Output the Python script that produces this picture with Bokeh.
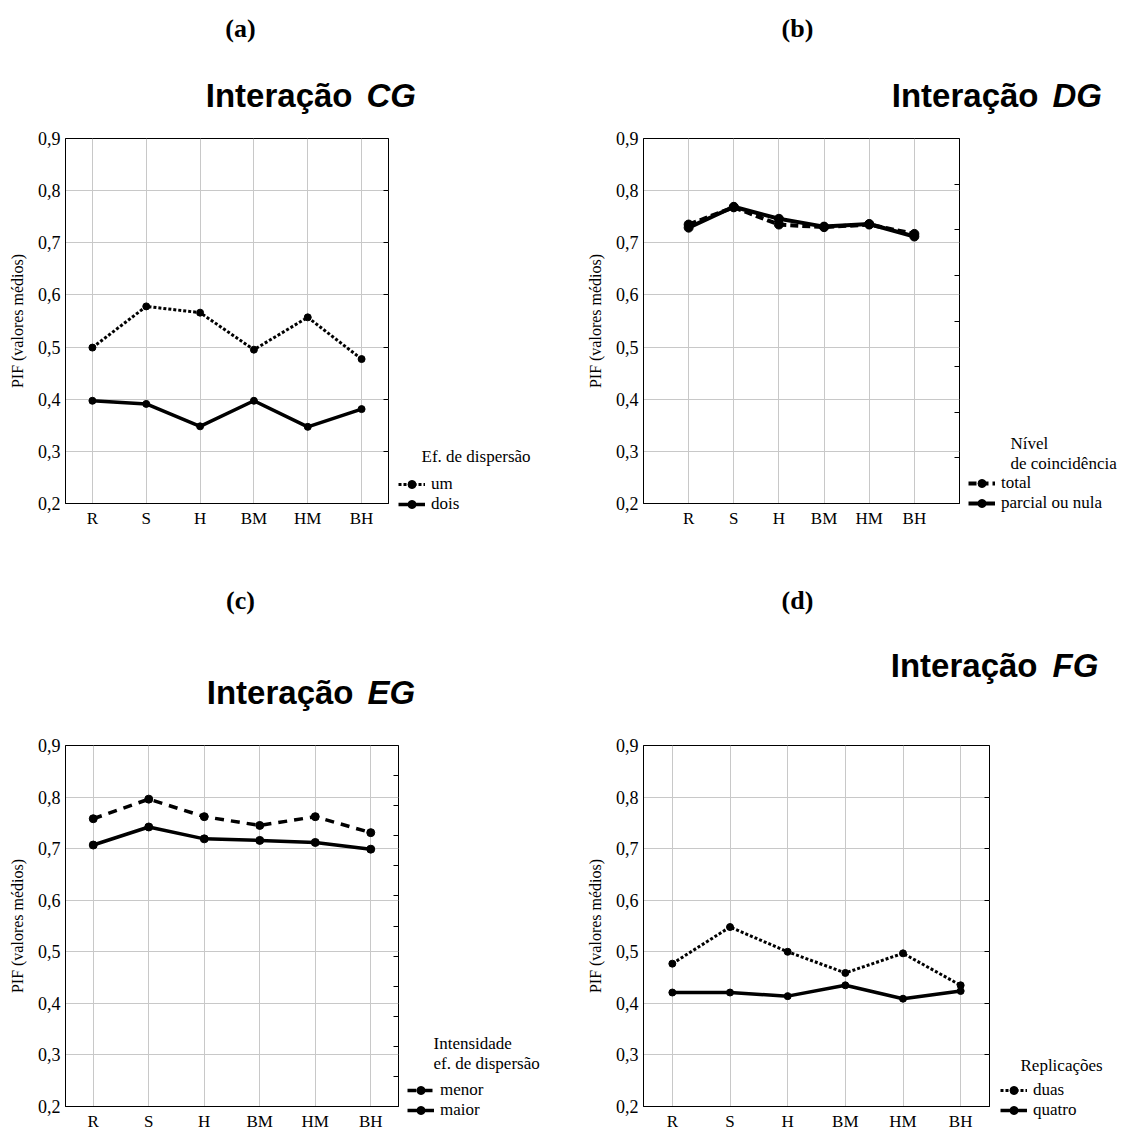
from bokeh.plotting import figure
from bokeh.models import (Range1d, FixedTicker, LinearAxis, Label, Legend,
                          LegendItem, CustomJSTickFormatter)
from bokeh.layouts import column, row
from bokeh.embed import file_html
from bokeh.resources import INLINE

# ---- data -------------------------------------------------------------
categories = ["R", "S", "H", "BM", "HM", "BH"]
y_tick_values = [0.2, 0.3, 0.4, 0.5, 0.6, 0.7, 0.8, 0.9]

cg_um = [0.499, 0.578, 0.566, 0.495, 0.557, 0.477]
cg_dois = [0.397, 0.391, 0.348, 0.397, 0.347, 0.381]

dg_total = [0.735, 0.768, 0.735, 0.730, 0.735, 0.717]
dg_parcial = [0.729, 0.769, 0.746, 0.731, 0.736, 0.712]

eg_menor = [0.758, 0.796, 0.762, 0.745, 0.762, 0.731]
eg_maior = [0.707, 0.742, 0.719, 0.716, 0.712, 0.699]

fg_duas = [0.477, 0.548, 0.500, 0.459, 0.497, 0.435]
fg_quatro = [0.421, 0.421, 0.414, 0.435, 0.409, 0.424]

SERIF = "Liberation Serif"
SANS = "Liberation Sans"
Y_LABEL = "PIF (valores médios)"

XS = [i + 1 for i in range(len(categories))]

# series styles: (values, dash, width, label)
series_cg = [(cg_um, "3 2", 3, "um"), (cg_dois, "solid", 3.5, "dois")]
series_dg = [(dg_total, "8 4", 4, "total"), (dg_parcial, "solid", 4, "parcial ou nula")]
series_eg = [(eg_menor, "9 7", 3.5, "menor"), (eg_maior, "solid", 3.5, "maior")]
series_fg = [(fg_duas, "3 2", 3, "duas"), (fg_quatro, "solid", 3.5, "quatro")]


def draw_series(p, series, marker_size, visible=True):
    out = []
    for vals, dash, lw, label in series:
        lr = p.line(XS, vals, line_color="black", line_width=lw,
                    line_dash=dash, line_cap="butt", line_join="round",
                    visible=visible)
        sr = p.scatter(XS, vals, size=marker_size, color="black",
                       visible=visible)
        out.append((label, lr, sr))
    return out


def data_panel(origin, size, frame, x_range, series, marker_size,
               right_divisions):
    ox, oy = origin
    w, h = size
    fl, fr, ft, fb = frame  # frame edges in page pixels
    p = figure(width=w, height=h, output_backend="svg", toolbar_location=None,
               x_range=Range1d(*x_range), y_range=Range1d(0.2, 0.9),
               min_border_left=fl - ox, min_border_right=ox + w - fr,
               min_border_top=ft - oy, min_border_bottom=oy + h - fb)
    p.outline_line_color = "black"
    p.outline_line_width = 1
    p.background_fill_color = "white"
    p.border_fill_color = "white"

    p.xaxis.ticker = FixedTicker(ticks=XS)
    p.xaxis.major_label_overrides = {x: c for x, c in zip(XS, categories)}
    p.yaxis.ticker = FixedTicker(ticks=y_tick_values)
    p.yaxis.formatter = CustomJSTickFormatter(
        code="return tick.toFixed(1).replace('.', ',');")
    p.yaxis.axis_label = Y_LABEL
    p.yaxis.axis_label_text_font = SERIF
    p.yaxis.axis_label_text_font_size = "16px"
    p.yaxis.axis_label_text_font_style = "normal"
    p.yaxis.axis_label_text_color = "black"
    p.yaxis.axis_label_standoff = 9
    for ax in (p.xaxis[0], p.yaxis[0]):
        ax.axis_line_color = "black"
        ax.major_tick_out = 0
        ax.major_tick_in = 0
        ax.minor_tick_out = 0
        ax.minor_tick_in = 0
        ax.major_label_text_font = SERIF
        ax.major_label_text_color = "black"
        ax.major_label_standoff = 5
    p.xaxis.major_label_text_font_size = "17px"
    p.yaxis.major_label_text_font_size = "18px"

    # right axis: short inward ticks, no labels
    step = 0.7 / right_divisions
    right = LinearAxis(ticker=FixedTicker(
        ticks=[0.2 + k * step for k in range(right_divisions + 1)]),
        formatter=CustomJSTickFormatter(code="return '';"))
    right.major_label_standoff = 0
    right.axis_line_color = None
    right.major_tick_in = 5
    right.major_tick_out = 0
    right.minor_tick_in = 0
    right.minor_tick_out = 0
    p.add_layout(right, "right")

    p.xgrid.ticker = FixedTicker(ticks=XS)
    p.ygrid.ticker = FixedTicker(ticks=y_tick_values)
    for g in (p.xgrid[0], p.ygrid[0]):
        g.grid_line_color = "#c8c8c8"
        g.grid_line_width = 1

    draw_series(p, series, marker_size)
    return p


def blank(origin, size):
    """A plain drawing area whose data units are page pixels (y downward)."""
    ox, oy = origin
    w, h = size
    p = figure(width=w, height=h, output_backend="svg", toolbar_location=None,
               x_range=Range1d(ox, ox + w), y_range=Range1d(oy + h, oy),
               x_axis_location=None, y_axis_location=None,
               min_border=0, min_border_left=0, min_border_right=0,
               min_border_top=0, min_border_bottom=0, frame_align=False)
    p.grid.visible = False
    p.outline_line_color = None
    p.background_fill_color = "white"
    p.border_fill_color = "white"
    return p


def put(p, text, px, py, font, size, style="normal", align="left",
        baseline="middle"):
    p.add_layout(Label(x=px, y=py, text=text, text_font=font,
                       text_font_size=size, text_font_style=style,
                       text_color="black", text_align=align,
                       text_baseline=baseline))


def legend_panel(origin, size, series, marker_size, title_lines, title_pos,
                 glyph_x, last_y):
    ox, oy = origin
    w, h = size
    p = blank(origin, size)
    tx, ty = title_pos
    for i, line in enumerate(title_lines):
        put(p, line, tx, ty + i * 20, SERIF, "17px")
    drawn = draw_series(p, series, marker_size, visible=False)
    items = [LegendItem(label=lab, renderers=[lr, sr]) for lab, lr, sr in drawn]
    item_h = 20
    legend = Legend(items=items,
                    location=(glyph_x - ox, (oy + h) - (last_y + item_h / 2)),
                    orientation="vertical", click_policy="none",
                    label_text_font=SERIF, label_text_font_size="17px",
                    label_text_color="black",
                    label_height=item_h, glyph_height=item_h,
                    glyph_width=27, label_standoff=6, spacing=0,
                    padding=0, margin=0,
                    border_line_alpha=0, background_fill_alpha=0)
    p.add_layout(legend, "center")
    return p


def header(origin, size, entries):
    p = blank(origin, size)
    for letter, letter_pos, word_end, code, code_start, base in entries:
        put(p, letter, letter_pos[0], letter_pos[1], SERIF, "26px", "bold",
            "center")
        put(p, "Interação", word_end, base, SANS, "33px", "bold", "right",
            "alphabetic")
        put(p, code, code_start, base, SANS, "33px", "bold italic", "left",
            "alphabetic")
    return p


# ---- top row ----------------------------------------------------------
head1 = header((0, 0), (1121, 126), [
    ("(a)", (240, 28), 352, "CG", 366, 95),
    ("(b)", (797, 28), 1038, "DG", 1052, 95),
])

pa = data_panel((0, 126), (390, 434), (65, 388, 138, 503), (0.5, 6.5),
                series_cg, 7, 7)
la = legend_panel((390, 126), (190, 434), series_cg, 7,
                  ["Ef. de dispersão"], (421, 456), 398, 504)
pb = data_panel((580, 126), (381, 434), (643, 959, 138, 503), (0, 7),
                series_dg, 9, 8)
lb = legend_panel((961, 126), (160, 434), series_dg, 9,
                  ["Nível", "de coincidência"], (1010, 443), 968, 503)

# ---- bottom row -------------------------------------------------------
head2 = header((0, 560), (1121, 173), [
    ("(c)", (240, 600), 353, "EG", 367, 692),
    ("(d)", (797, 600), 1037, "FG", 1052, 665),
])

pc = data_panel((0, 733), (400, 400), (65, 398, 745, 1110), (0.5, 6.5),
                series_eg, 8, 12)
lc = legend_panel((400, 733), (180, 400), series_eg, 8,
                  ["Intensidade", "ef. de dispersão"], (433, 1043), 407, 1110)
pd_ = data_panel((580, 733), (411, 400), (643, 989, 745, 1110), (0.5, 6.5),
                 series_fg, 7, 7)
ld = legend_panel((991, 733), (130, 400), series_fg, 7,
                  ["Replicações"], (1020, 1065), 1000, 1110)

layout = column(head1, row(pa, la, pb, lb), head2, row(pc, lc, pd_, ld))
open("out.html", "w").write(file_html(layout, INLINE))
